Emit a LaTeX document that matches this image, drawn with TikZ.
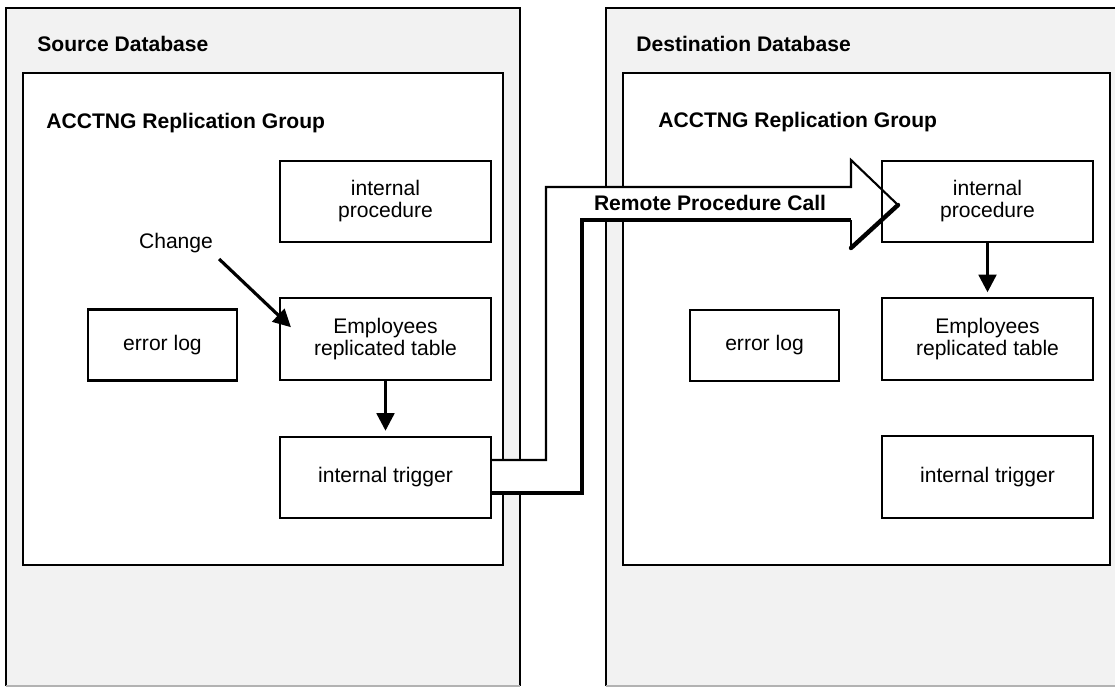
\documentclass[tikz,border=0pt]{standalone}
\usepackage{fontspec}
\setmainfont{Liberation Sans}
\usepackage{tikz}
\usetikzlibrary{arrows.meta,positioning,calc}
\definecolor{dbgray}{RGB}{242,242,242}

\begin{document}
\begin{tikzpicture}[x=0.02cm, y=-0.02cm,
	compbox/.style={draw, line width=1.2pt, inner sep=0pt, align=center, minimum width=4.22cm, minimum height=1.63cm, font=\fontsize{12}{12.5}\selectfont},
	errbox/.style={compbox, minimum width=2.98cm, minimum height=1.42cm},
	headlabel/.style={anchor=base west, inner sep=0pt, font=\bfseries\fontsize{12}{14}\selectfont},
	flowarrow/.style={line width=1.8pt, -{Triangle[length=10pt, width=10pt]}}]
		\clip (0,0) rectangle (1115,687);
		% the two databases
		\fill [dbgray] (6,8) rectangle (520,686);
		\draw [line width = 1.3pt] (6,686) -- (6,8) -- (520,8) -- (520,686);
		\draw [black!30, line width = 0.6pt] (6,686) -- (520,686);
		\fill [dbgray] (606,8) rectangle (1120,686);
		\draw [line width = 1.3pt] (606,686) -- (606,8) -- (1120,8);
		\draw [black!30, line width = 0.6pt] (606,686) -- (1115,686);
		\draw [line width = 1.3pt, fill=white] (23,73) rectangle (503,565);
		\draw [line width = 1.3pt, fill=white] (623,73) rectangle (1110,565);
		\node [headlabel](srcdb) at (37,51) {Source Database};
		\node [headlabel](srcgrp) at (46,128) {ACCTNG Replication Group};
		\node [headlabel](dstdb) at (636,51) {Destination Database};
		\node [headlabel](dstgrp) at (658,127) {ACCTNG Replication Group};
		% source side
		\node [compbox](srcproc) at (385.5,201.5) {internal\\procedure};
		\node [compbox](srctab) at (385.5,339) {Employees\\replicated table};
		\node [compbox](srctrig) at (385.5,477.5) {internal trigger};
		\node [errbox](srcerr) at (162.5,345) {error log};
		\node [font=\fontsize{12}{12.5}\selectfont](change) at (176,243) {Change};
		% remote procedure call
		\coordinate (rpcin) at ($(srctrig.east)+(0,-17.5)$);
		\coordinate (rpcout) at ($(srctrig.east)+(0,15.5)$);
		\coordinate (rpctip) at (898,205);
		\fill [white] (rpcin) -| (546,187) -- (851,187) -- (851,160) -- (rpctip) -- (851,248) -- (851,220) -- (582,220) |- (rpcout) -- cycle;
		\draw [line width = 1.2pt] (rpcin) -| (546,187) -- (851,187) -- (851,160) -- (rpctip);
		\draw [line width = 2.5pt, line join=miter] (rpcout) -| (582,220) -- (851,220);
		\draw [line width = 1.2pt] (851,220) -- (851,248);
		\draw [line width = 2.5pt, line cap=round] (851,248) -- (rpctip);
		\node [font=\bfseries\fontsize{12}{14}\selectfont](rpc) at (710,203) {Remote Procedure Call};
		% destination side
		\node [compbox](dstproc) at (987.5,201.5) {internal\\procedure};
		\node [compbox](dsttab) at (987.5,339) {Employees\\replicated table};
		\node [compbox](dsttrig) at (987.5,477) {internal trigger};
		\node [errbox](dsterr) at (764.5,345.5) {error log};
		% flows
		\draw [flowarrow] (change.south east) -- ($(srctab.north west)+(12,30)$);
		\draw [flowarrow, shorten >=2.8pt] (srctab.south) -- (srctrig.north);
		\draw [flowarrow, shorten >=2.8pt] (dstproc.south) -- (dsttab.north);
\end{tikzpicture}
\end{document}
